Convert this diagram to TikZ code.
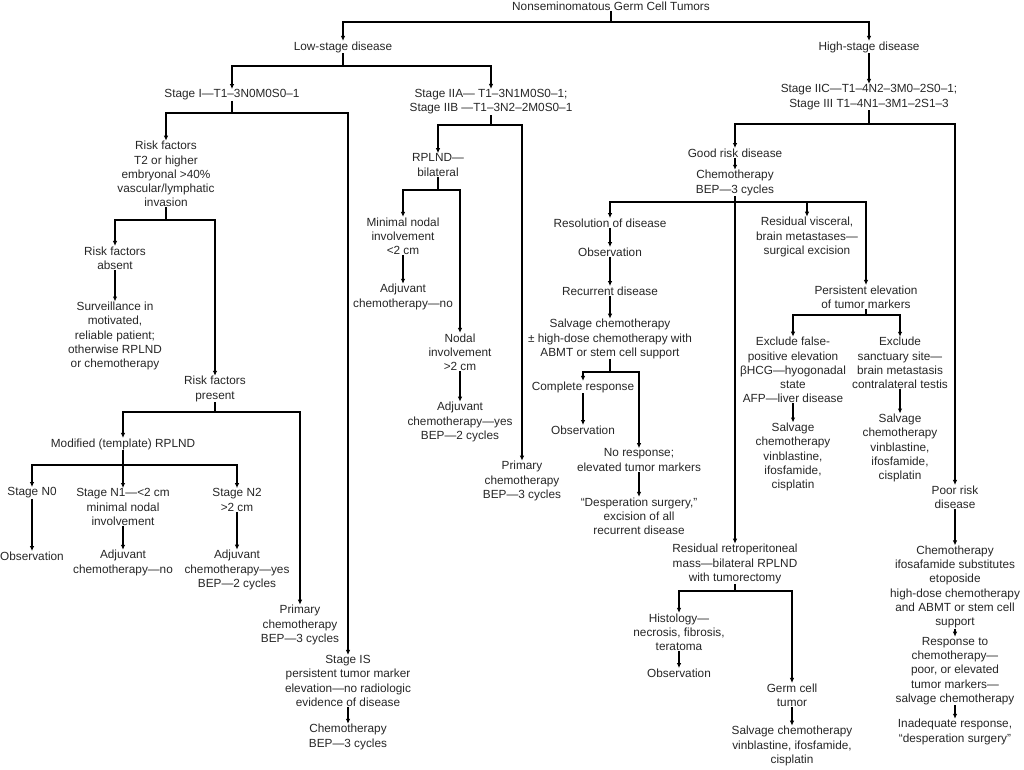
\documentclass[tikz,border=0pt]{standalone}
\usepackage{fontspec}
\setmainfont{Liberation Sans}
\usetikzlibrary{arrows.meta}

\tikzset{
  box/.style={align=center, inner sep=0.4pt, text=black!85,
    font=\fontsize{11.8pt}{14.2pt}\selectfont},
  arr/.style={-{Latex[length=5pt,width=4.5pt]}, line width=1.1pt},
}

\begin{document}
\begin{tikzpicture}[x=1pt,y=-1pt]
\useasboundingbox (0,0) rectangle (1024,769);

% top level
\node[box] (root) at (611,6) {Nonseminomatous Germ Cell Tumors};
\node[box] (low)  at (343,47) {Low-stage disease};
\node[box] (high) at (869,47) {High-stage disease};

% low-stage, stage I
\node[box] (stI)    at (232,95)  {Stage I—T1–3N0M0S0–1};
\node[box] (riskf)  at (166,174) {Risk factors\\T2 or higher\\embryonal >40\%\\vascular/lymphatic\\invasion};
\node[box] (rabs)   at (115,258) {Risk factors\\absent};
\node[box] (surv)   at (115,336) {Surveillance in\\motivated,\\reliable patient;\\otherwise RPLND\\or chemotherapy};
\node[box] (rpres)  at (215,389) {Risk factors\\present};
\node[box] (modrp)  at (123,444) {Modified (template) RPLND};
\node[box] (n0)     at (32,493)  {Stage N0};
\node[box] (n1)     at (123,507) {Stage N1—<2 cm\\minimal nodal\\involvement};
\node[box] (n2)     at (237,500) {Stage N2\\>2 cm};
\node[box] (obsA)   at (32,556)  {Observation};
\node[box] (adjno)  at (123,563) {Adjuvant\\chemotherapy—no};
\node[box] (adjyes) at (237,570) {Adjuvant\\chemotherapy—yes\\BEP—2 cycles};
\node[box] (primA)  at (300,625) {Primary\\chemotherapy\\BEP—3 cycles};
\node[box] (stIS)   at (348,681) {Stage IS\\persistent tumor marker\\elevation—no radiologic\\evidence of disease};
\node[box] (chemIS) at (348,737) {Chemotherapy\\BEP—3 cycles};

% low-stage, stage II
\node[box] (stII)    at (491,102) {Stage IIA— T1–3N1M0S0–1;\\Stage IIB —T1–3N2–2M0S0–1};
\node[box] (rplnd)   at (438,165) {RPLND—\\bilateral};
\node[box] (minnod)  at (403,236) {Minimal nodal\\involvement\\<2 cm};
\node[box] (adjno2)  at (403,297) {Adjuvant\\chemotherapy—no};
\node[box] (nodal)   at (460,352) {Nodal\\involvement\\>2 cm};
\node[box] (adjyes2) at (460,422) {Adjuvant\\chemotherapy—yes\\BEP—2 cycles};
\node[box] (primB)   at (522,481) {Primary\\chemotherapy\\BEP—3 cycles};

% high-stage
\node[box] (stIII)   at (869,97)  {Stage IIC—T1–4N2–3M0–2S0–1;\\Stage III T1–4N1–3M1–2S1–3};
\node[box] (good)    at (735,153) {Good risk disease};
\node[box] (chemG)   at (735,183) {Chemotherapy\\BEP—3 cycles};
\node[box] (resol)   at (610,223) {Resolution of disease};
\node[box] (obsB)    at (610,252) {Observation};
\node[box] (recur)   at (610,291) {Recurrent disease};
\node[box] (salv)    at (610,339) {Salvage chemotherapy\\± high-dose chemotherapy with\\ABMT or stem cell support};
\node[box] (compl)   at (583,387) {Complete response};
\node[box] (obsC)    at (583,430) {Observation};
\node[box] (noresp)  at (639,460) {No response;\\elevated tumor markers};
\node[box] (desp)    at (639,516) {“Desperation surgery,”\\excision of all\\recurrent disease};
\node[box] (visc)    at (807,237) {Residual visceral,\\brain metastases—\\surgical excision};
\node[box] (persist) at (866,297) {Persistent elevation\\of tumor markers};
\node[box] (exfalse) at (793,370) {Exclude false-\\positive elevation\\βHCG—hyogonadal\\state\\AFP—liver disease};
\node[box] (salvF)   at (793,457) {Salvage\\chemotherapy\\vinblastine,\\ifosfamide,\\cisplatin};
\node[box] (exsanct) at (900,363) {Exclude\\sanctuary site—\\brain metastasis\\contralateral testis};
\node[box] (salvS)   at (900,448) {Salvage\\chemotherapy\\vinblastine,\\ifosfamide,\\cisplatin};
\node[box] (retro)   at (735,564) {Residual retroperitoneal\\mass—bilateral RPLND\\with tumorectomy};
\node[box] (histo)   at (679,632) {Histology—\\necrosis, fibrosis,\\teratoma};
\node[box] (obsD)    at (679,673) {Observation};
\node[box] (germ)    at (792,695) {Germ cell\\tumor};
\node[box] (salvG)   at (792,746) {Salvage chemotherapy\\vinblastine, ifosfamide,\\cisplatin};
\node[box] (poor)    at (955,497) {Poor risk\\disease};
\node[box] (chemP)   at (955,587) {Chemotherapy\\ifosafamide substitutes\\etoposide\\high-dose chemotherapy\\and ABMT or stem cell\\support};
\node[box] (resp)    at (955,671) {Response to\\chemotherapy—\\poor, or elevated\\tumor markers—\\salvage chemotherapy};
\node[box] (inad)    at (955,732) {Inadequate response,\\“desperation surgery”};

% connectors, top
\draw[arr] (root.south) -- (root.south |- 0,22) -| (low.north);
\draw[arr] (root.south |- 0,22) -| (high.north);
\draw[arr] (low.south) -- (low.south |- 0,66) -| (stI.north);
\draw[arr] (low.south |- 0,66) -| (stII.north);

% stage I
\draw[arr] (stI.south) -- (stI.south |- 0,113) -| (riskf.north);
\draw[arr] (stI.south |- 0,113) -| (stIS.north);
\draw[arr] (riskf.south) -- (riskf.south |- 0,220) -| (rabs.north);
\draw[arr] (riskf.south |- 0,220) -| (rpres.north);
\draw[arr] (rabs) -- (surv);
\draw[arr] (rpres.south) -- (rpres.south |- 0,412) -| (modrp.north);
\draw[arr] (rpres.south |- 0,412) -| (primA.north);
\draw[arr] (modrp.south) -- (modrp.south |- 0,465) -| (n0.north);
\draw[arr] (modrp.south |- 0,465) -- (n1.north);
\draw[arr] (modrp.south |- 0,465) -| (n2.north);
\draw[arr] (n0) -- (obsA);
\draw[arr] (n1) -- (adjno);
\draw[arr] (n2) -- (adjyes);
\draw[arr] (stIS) -- (chemIS);

% stage II
\draw[arr] (stII.south) -- (stII.south |- 0,125) -| (rplnd.north);
\draw[arr] (stII.south |- 0,125) -| (primB.north);
\draw[arr] (rplnd.south) -- (rplnd.south |- 0,190) -| (minnod.north);
\draw[arr] (rplnd.south |- 0,190) -| (nodal.north);
\draw[arr] (minnod) -- (adjno2);
\draw[arr] (nodal) -- (adjyes2);

% high-stage
\draw[arr] (high) -- (stIII);
\draw[arr] (stIII.south) -- (stIII.south |- 0,124) -| (good.north);
\draw[arr] (stIII.south |- 0,124) -| (poor.north);
\draw[arr] (good) -- (chemG);
\draw[arr] (chemG) -- (retro);
\coordinate (gj) at (chemG.south |- 0,202);
\draw[arr] (gj) -| (resol.north);
\draw[arr] (gj) -| (persist.north);
\draw[arr] (visc.north |- gj) -- (visc.north);
\draw[arr] (resol) -- (obsB);
\draw[arr] (obsB) -- (recur);
\draw[arr] (recur) -- (salv);
\draw[arr] (salv.south) -- (salv.south |- 0,372) -| (compl.north);
\draw[arr] (salv.south |- 0,372) -| (noresp.north);
\draw[arr] (compl) -- (obsC);
\draw[arr] (noresp) -- (desp);
\draw[arr] (persist.south) -- (persist.south |- 0,315) -| (exfalse.north);
\draw[arr] (persist.south |- 0,315) -| (exsanct.north);
\draw[arr] (exfalse) -- (salvF);
\draw[arr] (exsanct) -- (salvS);
\draw[arr] (retro.south) -- (retro.south |- 0,591) -| (histo.north);
\draw[arr] (retro.south |- 0,591) -| (germ.north);
\draw[arr] (histo) -- (obsD);
\draw[arr] (germ) -- (salvG);
\draw[arr] (poor) -- (chemP);
\draw[arr] (chemP) -- (resp);
\draw[arr] (resp) -- (inad);
\end{tikzpicture}
\end{document}
